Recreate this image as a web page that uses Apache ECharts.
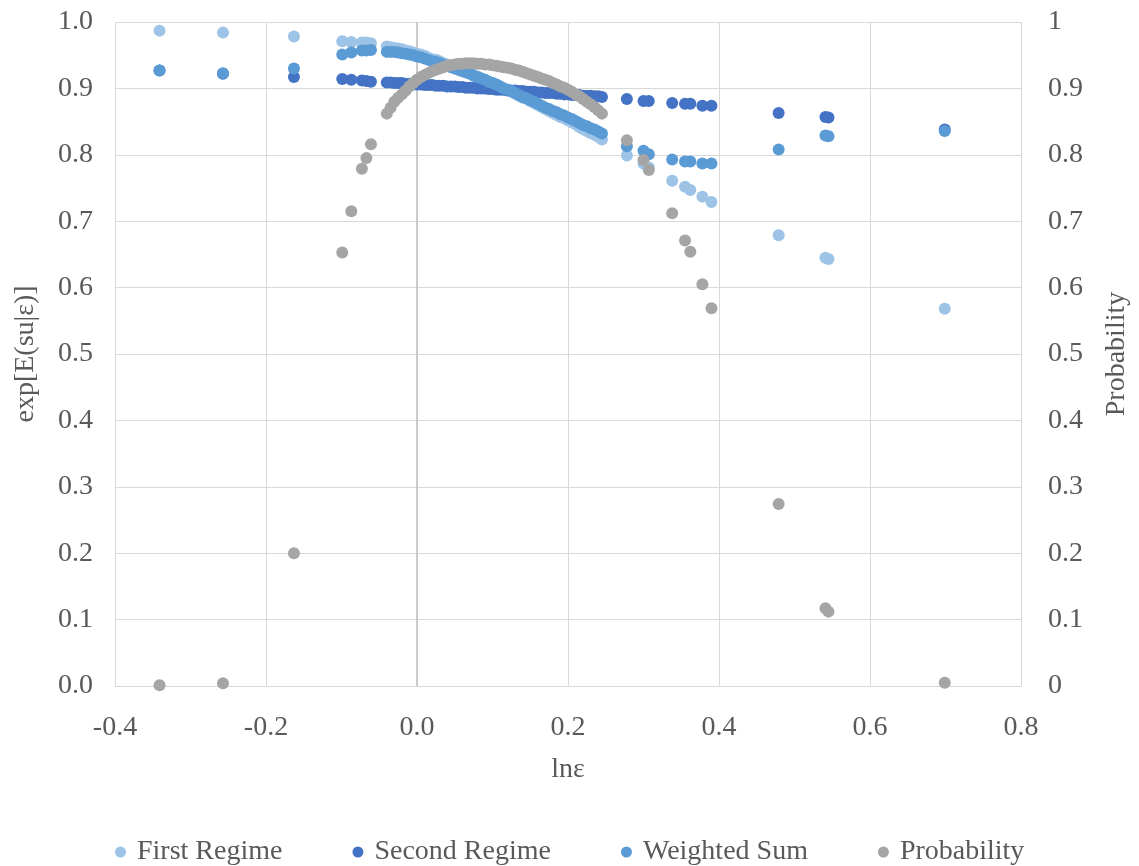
<!DOCTYPE html>
<html>
<head>
<meta charset="utf-8">
<script src="https://cdn.jsdelivr.net/npm/echarts@6/dist/echarts.min.js"></script>
<style>
html,body{margin:0;padding:0;background:#fff;}
#chart{width:1139px;height:866px;}
</style>
</head>
<body>
<div id="chart"></div>
<script>
const lnEps = [-0.341, -0.257, -0.163,
  -0.099, -0.087, -0.073, -0.067, -0.061,
  -0.040, -0.035, -0.030, -0.025, -0.020, -0.015, -0.010, -0.005,
  0.000, 0.005, 0.010, 0.015, 0.020, 0.025, 0.030, 0.035, 0.040, 0.045,
  0.050, 0.055, 0.060, 0.065, 0.070, 0.075, 0.080, 0.085, 0.090, 0.095,
  0.100, 0.105, 0.110, 0.115, 0.120, 0.125, 0.130, 0.135, 0.140, 0.145,
  0.150, 0.155, 0.160, 0.165, 0.170, 0.175, 0.180, 0.185, 0.190, 0.195,
  0.200, 0.205, 0.210, 0.215, 0.220, 0.225, 0.230, 0.235, 0.240, 0.245,
  0.278, 0.300, 0.307, 0.338, 0.355, 0.362, 0.378, 0.390, 0.479, 0.541, 0.545, 0.699];

const firstRegime = [0.987, 0.984, 0.978,
  0.971, 0.970, 0.969, 0.969, 0.968,
  0.963, 0.962, 0.961, 0.960, 0.959, 0.957, 0.956, 0.954,
  0.952, 0.951, 0.949, 0.946, 0.944, 0.943, 0.941, 0.938, 0.936, 0.934,
  0.932, 0.929, 0.927, 0.925, 0.923, 0.920, 0.918, 0.915, 0.913, 0.910,
  0.908, 0.906, 0.903, 0.900, 0.898, 0.895, 0.892, 0.889, 0.886, 0.884,
  0.881, 0.878, 0.875, 0.872, 0.869, 0.866, 0.863, 0.860, 0.857, 0.855,
  0.852, 0.849, 0.846, 0.842, 0.839, 0.836, 0.833, 0.830, 0.827, 0.823,
  0.799, 0.787, 0.781, 0.761, 0.752, 0.747, 0.737, 0.729, 0.679, 0.645, 0.643, 0.568];

const secondRegime = [0.927, 0.922, 0.917,
  0.914, 0.913, 0.912, 0.911, 0.910,
  0.909, 0.909, 0.908, 0.908, 0.908, 0.907, 0.907, 0.906,
  0.906, 0.906, 0.905, 0.905, 0.905, 0.904, 0.904, 0.904, 0.903, 0.903,
  0.903, 0.902, 0.902, 0.901, 0.901, 0.901, 0.900, 0.900, 0.900, 0.899,
  0.899, 0.898, 0.898, 0.898, 0.897, 0.897, 0.897, 0.896, 0.896, 0.895,
  0.895, 0.895, 0.894, 0.894, 0.893, 0.893, 0.893, 0.892, 0.892, 0.891,
  0.891, 0.890, 0.890, 0.890, 0.889, 0.889, 0.889, 0.888, 0.888, 0.887,
  0.884, 0.881, 0.881, 0.878, 0.877, 0.877, 0.874, 0.874, 0.863, 0.857, 0.856, 0.838];

const weightedSum = [0.927, 0.923, 0.930,
  0.951, 0.954, 0.957, 0.957, 0.958,
  0.955, 0.955, 0.955, 0.954, 0.953, 0.952, 0.951, 0.950,
  0.948, 0.947, 0.945, 0.943, 0.941, 0.940, 0.938, 0.936, 0.934, 0.932,
  0.930, 0.928, 0.926, 0.924, 0.922, 0.919, 0.917, 0.915, 0.913, 0.910,
  0.908, 0.906, 0.903, 0.900, 0.898, 0.896, 0.893, 0.890, 0.887, 0.885,
  0.882, 0.880, 0.877, 0.874, 0.871, 0.869, 0.866, 0.864, 0.861, 0.859,
  0.856, 0.854, 0.851, 0.848, 0.845, 0.843, 0.840, 0.838, 0.835, 0.832,
  0.813, 0.806, 0.801, 0.793, 0.790, 0.790, 0.787, 0.787, 0.808, 0.829, 0.828, 0.836];

const probability = [0.001, 0.004, 0.200,
  0.653, 0.715, 0.779, 0.795, 0.816,
  0.862, 0.871, 0.880, 0.886, 0.891, 0.897, 0.903, 0.908,
  0.913, 0.917, 0.920, 0.923, 0.926, 0.928, 0.930, 0.932, 0.934, 0.935,
  0.936, 0.937, 0.937, 0.938, 0.938, 0.938, 0.937, 0.937, 0.936, 0.936,
  0.935, 0.934, 0.933, 0.932, 0.931, 0.930, 0.928, 0.927, 0.925, 0.923,
  0.921, 0.919, 0.917, 0.915, 0.913, 0.911, 0.908, 0.906, 0.903, 0.901,
  0.898, 0.895, 0.891, 0.888, 0.884, 0.880, 0.876, 0.872, 0.867, 0.862,
  0.822, 0.792, 0.777, 0.712, 0.671, 0.654, 0.605, 0.569, 0.274, 0.117, 0.112, 0.005];

const seriesNames = ['First Regime', 'Second Regime', 'Weighted Sum', 'Probability'];
const seriesColors = ['#9DC3E6', '#4472C4', '#5B9BD5', '#A5A5A5'];

const FONT = "'Liberation Serif', 'Times New Roman', serif";
const TXT = '#595959';
const FS = 28;

function pairs(ys){ return lnEps.map((x,i)=>[x, ys[i]]); }

const chart = echarts.init(document.getElementById('chart'), null, {renderer:'canvas'});
const dataSets = [firstRegime, secondRegime, weightedSum, probability];

const series = dataSets.map((ys, i) => ({
  name: seriesNames[i],
  type: 'scatter',
  yAxisIndex: i === 3 ? 1 : 0,
  data: pairs(ys),
  symbol: 'circle',
  symbolSize: 12,
  itemStyle: { color: seriesColors[i], opacity: 1 },
  emphasis: { disabled: true },
  z: 3 + i
}));
series[0].markLine = {
  silent: true, symbol: 'none', label: { show: false },
  lineStyle: { color: '#bfbfbf', width: 1.5, type: 'solid' },
  data: [{ xAxis: 0 }],
  z: 1
};

chart.setOption({
  animation: false,
  backgroundColor: '#fff',
  textStyle: { fontFamily: FONT },
  grid: { left: 115, right: 113, top: 22, bottom: 180, containLabel: false },
  legend: {
    data: seriesNames.map((n) => ({ name: n, icon: 'circle' })),
    top: 833, left: 110,
    itemWidth: 11, itemHeight: 11, itemGap: 70,
    textStyle: { fontFamily: FONT, fontSize: FS, color: TXT, padding: [0, 0, 0, 6] }
  },
  xAxis: {
    type: 'value', min: -0.4, max: 0.8, interval: 0.2,
    name: 'lnε', nameLocation: 'middle', nameGap: 70,
    nameTextStyle: { fontFamily: FONT, fontSize: FS, color: TXT },
    axisLine: { show: true, onZero: false, lineStyle: { color: '#d9d9d9' } },
    axisTick: { show: false },
    axisLabel: { fontFamily: FONT, fontSize: FS, color: TXT, margin: 28,
      formatter: v => v.toFixed(1) },
    splitLine: { show: true, lineStyle: { color: '#d9d9d9', width: 1 } }
  },
  yAxis: [{
    type: 'value', min: 0, max: 1, interval: 0.1,
    name: 'exp[E(su|ε)]', nameLocation: 'middle', nameGap: 75, nameRotate: 90,
    nameTextStyle: { fontFamily: FONT, fontSize: FS, color: TXT },
    axisLine: { show: false }, axisTick: { show: false },
    axisLabel: { fontFamily: FONT, fontSize: FS, color: TXT, margin: 22,
      formatter: v => v.toFixed(1) },
    splitLine: { show: true, lineStyle: { color: '#d9d9d9', width: 1 } }
  }, {
    type: 'value', min: 0, max: 1, interval: 0.1, position: 'right',
    name: 'Probability', nameLocation: 'middle', nameGap: 82, nameRotate: 90,
    nameTextStyle: { fontFamily: FONT, fontSize: FS, color: TXT },
    axisLine: { show: false }, axisTick: { show: false },
    axisLabel: { fontFamily: FONT, fontSize: FS, color: TXT, margin: 27 },
    splitLine: { show: false }
  }],
  series: series
});
</script>
</body>
</html>
